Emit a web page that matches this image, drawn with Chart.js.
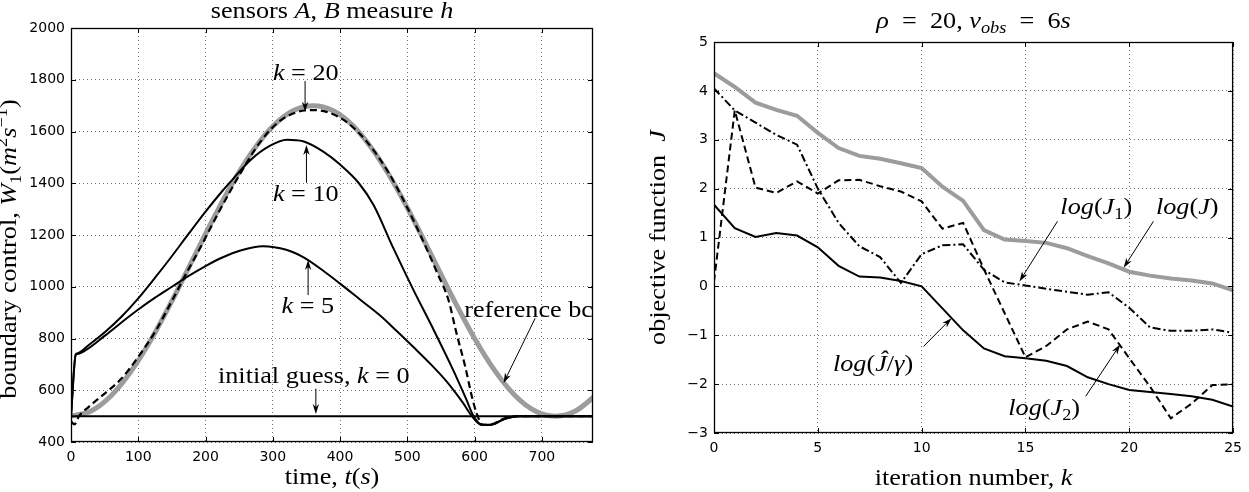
<!DOCTYPE html>
<html>
<head>
<meta charset="utf-8">
<script src="https://cdn.jsdelivr.net/npm/chart.js@4.4.0/dist/chart.umd.min.js"></script>
<style>
  body { margin: 0; background: #fff; }
  #wrap { position: relative; width: 1249px; height: 492px; }
  canvas { position: absolute; top: 0; }
</style>
</head>
<body>
<div id="wrap">
  <canvas id="left" width="624" height="492" style="left:0"></canvas>
  <canvas id="right" width="625" height="492" style="left:624px"></canvas>
</div>
<script>
// ---- left panel: boundary control W1 vs time t
const tRef = [0, 30, 60, 90, 120, 150, 180, 210, 240, 270, 300, 330, 360, 390, 420, 450, 480, 510, 540, 570, 600, 630, 660, 690, 720, 750, 780];
const wRef = [500, 520, 580, 676, 800, 945, 1100, 1255, 1400, 1524, 1620, 1680, 1700, 1680, 1620, 1524, 1400, 1255, 1100, 945, 800, 676, 580, 520, 500, 520, 580];
const tGuess = [0, 776];
const wGuess = [500, 500];
const tK5 = [0, 7, 9, 26, 51, 75, 100, 125, 150, 175, 200, 225, 252, 285, 320, 347, 375, 400, 430, 460, 485, 509, 535, 558, 583, 596, 610, 625, 645, 665, 776];
const wK5 = [500, 738, 740, 762, 812, 862, 912, 958, 1000, 1042, 1080, 1113, 1140, 1157, 1143, 1112, 1062, 1012, 950, 888, 827, 767, 700, 635, 550, 500, 466, 467, 490, 500, 500];
const tK10 = [0, 7, 9, 26, 51, 75, 100, 125, 149, 175, 200, 225, 242, 267, 296, 321, 345, 375, 400, 428, 450, 479, 509, 539, 568, 588, 598, 610, 625, 645, 665, 776];
const wK10 = [500, 738, 742, 774, 826, 884, 955, 1035, 1115, 1205, 1290, 1370, 1420, 1490, 1545, 1568, 1562, 1522, 1472, 1400, 1315, 1150, 988, 834, 679, 563, 502, 468, 467, 490, 500, 500];
const tK20 = [0, 5, 12, 26, 50, 75, 100, 125, 150, 170, 190, 220, 250, 282, 310, 335, 356, 380, 410, 440, 470, 500, 529, 545, 561, 573, 586, 596, 603, 612, 625, 645, 665, 776];
const wK20 = [480, 468, 500, 535, 587, 645, 729, 826, 945, 1045, 1140, 1290, 1430, 1562, 1640, 1674, 1683, 1676, 1636, 1560, 1450, 1305, 1145, 1050, 950, 821, 692, 575, 511, 466, 468, 492, 500, 500];

// ---- right panel: objective function vs iteration k
const iters = [0, 1, 2, 3, 4, 5, 6, 7, 8, 9, 10, 11, 12, 13, 14, 15, 16, 17, 18, 19, 20, 21, 22, 23, 24, 25];
const logJ = [4.36, 4.08, 3.76, 3.61, 3.49, 3.14, 2.83, 2.67, 2.61, 2.52, 2.42, 2.04, 1.75, 1.15, 0.96, 0.93, 0.89, 0.78, 0.62, 0.47, 0.30, 0.22, 0.16, 0.12, 0.06, -0.08];
const logJ1 = [4.05, 3.6, 3.35, 3.1, 2.9, 2.0, 1.3, 0.82, 0.6, 0.07, 0.66, 0.84, 0.86, 0.34, 0.08, 0.02, -0.05, -0.11, -0.17, -0.12, -0.44, -0.84, -0.91, -0.91, -0.88, -0.95];
const logJ2 = [0.1, 3.6, 2.02, 1.91, 2.15, 1.9, 2.17, 2.18, 2.05, 1.94, 1.74, 1.18, 1.3, 0.35, -0.55, -1.45, -1.22, -0.88, -0.72, -0.88, -1.47, -2.05, -2.7, -2.4, -2.02, -2.0];
const logJhat = [1.67, 1.19, 1.01, 1.09, 1.04, 0.8, 0.42, 0.2, 0.18, 0.11, 0.0, -0.45, -0.9, -1.27, -1.43, -1.47, -1.52, -1.63, -1.86, -2.0, -2.12, -2.16, -2.2, -2.25, -2.32, -2.46];

const GREY = '#9c9c9c';
const SERIF = '"Liberation Serif", "Times New Roman", serif';
const TXT = 23, SX = 1.14;

const xy = (xs, ys) => xs.map((x, i) => ({ x, y: ys[i] }));

function segFont(st, size) {
  const small = st.includes('_') || st.includes('^');
  return (st.includes('i') ? 'italic ' : '') + (small ? size * 0.7 : size) + 'px ' + SERIF;
}

// draw mixed roman / italic / sub / sup text
function drawRich(ctx, segs, px, py, align, rot) {
  let w = 0;
  const ws = segs.map(([t, st]) => {
    ctx.font = segFont(st, TXT);
    const m = ctx.measureText(t).width;
    w += m;
    return m;
  });
  ctx.save();
  ctx.translate(px, py);
  if (rot) ctx.rotate(rot);
  ctx.scale(SX, 1);
  let cx = align === 'left' ? 0 : align === 'right' ? -w : -w / 2;
  ctx.fillStyle = '#000';
  ctx.textAlign = 'left';
  ctx.textBaseline = 'alphabetic';
  segs.forEach(([t, st], i) => {
    ctx.font = segFont(st, TXT);
    const dy = st.includes('_') ? TXT * 0.22 : st.includes('^') ? -TXT * 0.38 : 0;
    ctx.fillText(t, cx, dy);
    cx += ws[i];
  });
  ctx.restore();
}

function arrow(ctx, x1, y1, x2, y2) {
  const ang = Math.atan2(y2 - y1, x2 - x1), L = 10, W = 3.2;
  ctx.beginPath();
  ctx.moveTo(x1, y1);
  ctx.lineTo(x2 - 6 * Math.cos(ang), y2 - 6 * Math.sin(ang));
  ctx.stroke();
  ctx.save();
  ctx.translate(x2, y2);
  ctx.rotate(ang);
  ctx.beginPath();
  ctx.moveTo(0, 0);
  ctx.lineTo(-L, -W);
  ctx.lineTo(-L * 0.7, 0);
  ctx.lineTo(-L, W);
  ctx.closePath();
  ctx.fill();
  ctx.restore();
}

// frame, inward ticks, notes, titles
const decor = {
  id: 'decor',
  afterDraw(chart, args, o) {
    const { ctx, chartArea: a, scales: { x, y } } = chart;
    ctx.save();
    ctx.setLineDash([]);
    ctx.strokeStyle = '#000';
    ctx.fillStyle = '#000';
    ctx.lineWidth = 1;
    ctx.beginPath();
    x.ticks.forEach(t => {
      const p = Math.round(x.getPixelForValue(t.value)) + 0.5;
      ctx.moveTo(p, a.bottom); ctx.lineTo(p, a.bottom - 5);
      ctx.moveTo(p, a.top); ctx.lineTo(p, a.top + 5);
    });
    y.ticks.forEach(t => {
      const p = Math.round(y.getPixelForValue(t.value)) + 0.5;
      ctx.moveTo(a.left, p); ctx.lineTo(a.left + 5, p);
      ctx.moveTo(a.right, p); ctx.lineTo(a.right - 5, p);
    });
    ctx.stroke();
    ctx.lineWidth = 1.3;
    ctx.strokeRect(a.left + 0.5, a.top + 0.5, a.right - a.left - 1, a.bottom - a.top - 1);

    ctx.lineWidth = 1;
    o.arrows.forEach(([x1, y1, x2, y2]) => {
      arrow(ctx, x.getPixelForValue(x1), y.getPixelForValue(y1), x.getPixelForValue(x2), y.getPixelForValue(y2));
    });
    o.notes.forEach(n => {
      drawRich(ctx, n.segs, x.getPixelForValue(n.x), y.getPixelForValue(n.y), n.align);
    });
    const cx = (a.left + a.right) / 2, cy = (a.top + a.bottom) / 2;
    drawRich(ctx, o.title, cx, o.titleY);
    drawRich(ctx, o.xTitle, cx, o.xTitleY);
    drawRich(ctx, o.yTitle, o.yTitleX, cy + o.yTitleShift, 'center', -Math.PI / 2);
    ctx.restore();
  }
};

function axes(xmin, xmax, xstep, ymin, ymax, ystep, yw, xh) {
  const tickFont = { family: '"DejaVu Sans", sans-serif', size: 14 };
  const minus = v => String(v).replace('-', '\u2212');
  const common = {
    type: 'linear',
    grid: { color: 'rgba(0,0,0,0.55)', lineWidth: 1, drawTicks: false },
    border: { display: false, dash: [1, 3] }
  };
  return {
    x: Object.assign({}, common, {
      min: xmin, max: xmax,
      ticks: { stepSize: xstep, includeBounds: false, font: tickFont, color: '#000', padding: 7, maxRotation: 0, callback: minus },
      afterFit: s => { s.height = xh; }
    }),
    y: Object.assign({}, common, {
      min: ymin, max: ymax,
      ticks: { stepSize: ystep, includeBounds: false, font: tickFont, color: '#000', padding: 6, callback: minus },
      afterFit: s => { s.width = yw; }
    })
  };
}

const baseOpts = {
  responsive: false,
  animation: false,
  devicePixelRatio: 1,
  events: [],
  elements: { point: { radius: 0 } }
};

const solid = (data, extra) => Object.assign({ data, borderColor: '#000', borderWidth: 2, fill: false, pointRadius: 0 }, extra);

// left chart
new Chart(document.getElementById('left'), {
  type: 'line',
  data: {
    datasets: [
      solid(xy(tGuess, wGuess), { borderWidth: 2 }),
      solid(xy(tK5, wK5), { cubicInterpolationMode: 'monotone' }),
      solid(xy(tK10, wK10), { cubicInterpolationMode: 'monotone' }),
      solid(xy(tK20, wK20), { cubicInterpolationMode: 'monotone', borderDash: [7, 4], borderWidth: 2.2 }),
      solid(xy(tRef, wRef), { cubicInterpolationMode: 'monotone', borderColor: GREY, borderWidth: 5 })
    ]
  },
  options: Object.assign({}, baseOpts, {
    layout: { padding: { left: 0, right: 31, top: 28, bottom: 0 } },
    scales: axes(0, 776, 100, 400, 2000, 200, 71, 50),
    plugins: {
      legend: { display: false },
      tooltip: { enabled: false },
      decor: {
        title: [['sensors ', ''], ['A', 'i'], [', ', ''], ['B', 'i'], [' measure ', ''], ['h', 'i']],
        titleY: 18,
        xTitle: [['time, ', ''], ['t', 'i'], ['(', ''], ['s', 'i'], [')', '']],
        xTitleY: 484,
        yTitle: [['boundary control, ', ''], ['W', 'i'], ['1', '_'], ['(', ''], ['m', 'i'], ['2', '^'], ['s', 'i'], ['\u22121', '^'], [')', '']],
        yTitleX: 16,
        yTitleShift: 14,
        notes: [
          { x: 349, y: 1800, segs: [['k', 'i'], [' = 20', '']] },
          { x: 349, y: 1330, segs: [['k', 'i'], [' = 10', '']] },
          { x: 352, y: 900, segs: [['k', 'i'], [' = 5', '']] },
          { x: 361, y: 627, segs: [['initial guess, ', ''], ['k', 'i'], [' = 0', '']] },
          { x: 776, y: 885, segs: [['reference bc', '']], align: 'right' }
        ],
        arrows: [
          [348, 1795, 348, 1676],
          [350, 1402, 350, 1548],
          [352.5, 968, 352.5, 1103],
          [364, 606, 364, 508],
          [690, 878, 643, 628]
        ]
      }
    }
  }),
  plugins: [decor]
});

// right chart
new Chart(document.getElementById('right'), {
  type: 'line',
  data: {
    datasets: [
      solid(xy(iters, logJhat)),
      solid(xy(iters, logJ1), { borderDash: [8, 3, 2, 3] }),
      solid(xy(iters, logJ2), { borderDash: [7, 4] }),
      solid(xy(iters, logJ), { borderColor: GREY, borderWidth: 4 })
    ]
  },
  options: Object.assign({}, baseOpts, {
    layout: { padding: { left: 0, right: 12, top: 42, bottom: 0 } },
    scales: axes(0, 25, 5, -3, 5, 1, 90, 59),
    plugins: {
      legend: { display: false },
      tooltip: { enabled: false },
      decor: {
        title: [['\u03c1', 'i'], ['  =  20, ', ''], ['\u03bd', 'i'], ['obs', '_i'], ['  =  6', ''], ['s', 'i']],
        titleY: 28,
        xTitle: [['iteration number, ', ''], ['k', 'i']],
        xTitleY: 485,
        yTitle: [['objective function  ', ''], ['J', 'i']],
        yTitleX: 41,
        yTitleShift: 0,
        notes: [
          { x: 18.41, y: 1.49, segs: [['log', 'i'], ['(', ''], ['J', 'i'], ['1', '_'], [')', '']] },
          { x: 22.79, y: 1.49, segs: [['log', 'i'], ['(', ''], ['J', 'i'], [')', '']] },
          { x: 7.66, y: -1.74, segs: [['log', 'i'], ['(', ''], ['\u0134', 'i'], ['/', ''], ['\u03b3', 'i'], [')', '']] },
          { x: 15.9, y: -2.64, segs: [['log', 'i'], ['(', ''], ['J', 'i'], ['2', '_'], [')', '']] }
        ],
        arrows: [
          [16.54, 1.33, 14.71, 0.10],
          [21.16, 1.33, 19.73, 0.38],
          [10.09, -1.23, 11.44, -0.65],
          [17.9, -2.25, 19.56, -1.19]
        ]
      }
    }
  }),
  plugins: [decor]
});
</script>
</body>
</html>
